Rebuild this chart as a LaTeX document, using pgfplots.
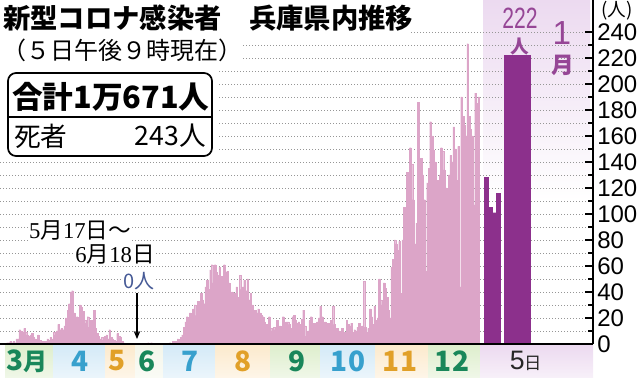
\documentclass[border=0pt]{standalone}
\usepackage{pgfplots}
\pgfplotsset{compat=1.18}
\usepackage{pgfplotstable}
\usetikzlibrary{arrows.meta}
\usepackage{fontspec}
\setmainfont{Liberation Sans}
\newfontfamily\jp{Noto Sans CJK JP}
\newfontfamily\ser{Liberation Serif}
\definecolor{pinkbar}{RGB}{220,165,200}
\definecolor{purp}{RGB}{140,48,140}
\definecolor{purptxt}{RGB}{150,70,150}
\definecolor{lav}{RGB}{236,218,240}
\definecolor{bgreen}{RGB}{222,238,205}
\definecolor{bblue}{RGB}{212,234,247}
\definecolor{borange}{RGB}{252,234,205}
\definecolor{bpale}{RGB}{244,246,234}
\definecolor{tgreen}{RGB}{25,135,90}
\definecolor{tblue}{RGB}{55,160,205}
\definecolor{torange}{RGB}{225,160,40}
\definecolor{zeroblue}{RGB}{70,90,150}
\definecolor{gridgray}{RGB}{150,150,150}

\pgfplotstableread{
v
0
1
1
2
1
2
1
4
4
11
10
9
12
9
7
6
7
8
5
4
3
7
3
2
2
1
2
4
3
5
4
9
7
10
15
11
12
11
14
20
26
31
40
41
24
18
21
19
30
28
25
18
16
21
13
18
15
26
12
8
6
4
5
3
6
7
4
11
5
4
3
2
8
6
5
2
1
0
0
0
0
0
0
0
0
0
0
0
0
0
0
0
1
0
1
0
0
0
0
0
0
0
0
0
0
0
1
0
2
1
2
4
3
5
7
13
17
21
16
24
18
27
30
22
33
26
39
34
31
44
49
42
57
61
47
61
55
53
59
52
48
61
55
56
47
26
40
34
39
44
36
53
42
44
49
41
50
34
39
30
21
26
24
27
24
22
21
17
15
11
21
12
10
13
11
18
12
14
13
21
15
17
17
15
12
21
22
18
16
17
15
19
26
14
6
10
18
21
16
16
14
17
20
29
21
15
17
13
16
14
18
29
15
12
12
10
8
12
7
9
18
15
14
16
9
11
10
13
16
12
14
48
13
9
12
27
21
15
29
18
20
50
34
30
47
43
36
26
20
59
65
80
77
72
79
39
80
105
99
132
106
151
138
111
77
93
186
103
143
130
111
56
124
135
171
160
149
140
106
126
130
151
148
134
120
66
130
145
140
167
150
126
152
44
190
175
168
160
231
175
165
160
107
193
185
190
}\pinkdata

\begin{document}
\begin{tikzpicture}
% ---------- background shading and month bands ----------
\begin{scope}[x=0.75pt,y=-0.75pt,shift={(0pt,258pt)}]
  \shade[top color=lav, bottom color=white] (483,0) rectangle (590,200);
  \shade[top color=bgreen, bottom color=bgreen!45!white] (5,345) rectangle (53,378);
  \shade[top color=bblue, bottom color=bblue!45!white] (53,345) rectangle (105,378);
  \shade[top color=borange, bottom color=borange!45!white] (105,345) rectangle (135,378);
  \shade[top color=bpale, bottom color=bpale!45!white] (135,345) rectangle (163,378);
  \shade[top color=bblue, bottom color=bblue!45!white] (163,345) rectangle (215,378);
  \shade[top color=borange, bottom color=borange!45!white] (215,345) rectangle (270,378);
  \shade[top color=bgreen, bottom color=bgreen!45!white] (270,345) rectangle (320,378);
  \shade[top color=bblue, bottom color=bblue!45!white] (320,345) rectangle (375,378);
  \shade[top color=borange, bottom color=borange!45!white] (375,345) rectangle (428,378);
  \shade[top color=bgreen, bottom color=bgreen!45!white] (428,345) rectangle (480,378);
  \shade[top color=lav, bottom color=lav!40!white] (480,345) rectangle (593,378);
\end{scope}

\begin{axis}[
  at={(0pt,0pt)}, anchor=south west,
  scale only axis, width=444.75pt, height=258pt,
  xmin=0, xmax=593, ymin=0, ymax=264.6,
  axis x line*=bottom, axis y line*=right,
  axis line style={line width=0.9pt, black, -},
  every outer x axis line/.append style={-},
  every outer y axis line/.append style={-},
  xtick=\empty,
  ytick={0,20,...,240},
  minor ytick={10,30,...,230},
  tick align=inside,
  major tick length=6pt, minor tick length=4pt,
  tick style={black, line width=0.8pt},
  ymajorgrids, yminorgrids,
  major grid style={gridgray, dash pattern=on 0.75pt off 1.5pt, line width=0.6pt},
  minor grid style={gridgray, dash pattern=on 0.75pt off 1.5pt, line width=0.6pt},
  yticklabel style={font=\fontsize{18}{18}\selectfont, anchor=west, inner sep=0pt, xshift=3pt},
  /pgf/number format/assume math mode=true,
  clip=false,
]
\addplot[ybar, bar width=1.55, bar shift=0pt, fill=pinkbar, draw=pinkbar, line width=0.15pt]
  table[x expr={5+1.55*(\coordindex+0.5)}, y=v]{\pinkdata};
\addplot[ybar, bar width=4, bar shift=0pt, fill=purp, draw=purp, line width=0.15pt]
  coordinates {(486,128) (490,105) (494,101) (498,116)};
\addplot[ybar, bar width=27, bar shift=0pt, fill=purp, draw=none]
  coordinates {(517.5,222)};
\draw[black, line width=1pt] (axis cs:2,0) -- (axis cs:593,0);
\end{axis}

% ---------- texts and annotations ----------
\begin{scope}[x=0.75pt,y=-0.75pt,shift={(0pt,258pt)}]
  \fill[white] (0,0) rectangle (411,37);
  \fill[white] (0,37) rectangle (241,65);
  \fill[white] (0,65) rectangle (218,160);
  \node[anchor=west, inner sep=0pt] at (3,18)
    {\jp\bfseries\fontsize{20.5}{20.5}\selectfont 新型コロナ感染者　兵庫県内推移};
  \node[anchor=west, inner sep=0pt] at (2,50)
    {\jp\fontsize{18}{18}\selectfont （５日午後９時現在）};
  \draw[line width=1.3pt, rounded corners=6pt] (8,73) rectangle (212,156);
  \draw[line width=1pt] (8,117) -- (212,117);
  \node[anchor=west, inner sep=0pt] at (12,97)
    {\jp\bfseries\fontsize{23}{23}\selectfont 合計1万671人};
  \node[anchor=west, inner sep=0pt] at (14,136)
    {\jp\fontsize{20}{20}\selectfont 死者};
  \node[anchor=east, inner sep=0pt] at (206,136)
    {\jp\fontsize{20}{20}\selectfont 243人};
  % y unit
  \node at (617,11) {\jp\fontsize{14}{14}\selectfont (人)};
  % Jan 5 labels
  \node[purptxt, xscale=0.72, inner sep=0pt] at (520,18) {\fontsize{22}{22}\selectfont 222};
  \node[purptxt, inner sep=0pt] at (520,47) {\jp\bfseries\fontsize{14}{14}\selectfont 人};
  \node[purptxt, inner sep=0pt] at (562,33) {\fontsize{25}{25}\selectfont 1};
  \node[purptxt, inner sep=0pt] at (563,65) {\jp\bfseries\fontsize{17}{17}\selectfont 月};
  % zero annotation
  \node[fill=white, inner sep=1pt] at (80,231)
    {\fontsize{17}{17}\selectfont{\ser 5}{\jp 月}{\ser 17}{\jp 日～}};
  \node[fill=white, inner sep=1pt] at (115,255)
    {\fontsize{17}{17}\selectfont{\ser 6}{\jp 月}{\ser 18}{\jp 日}};
  \node[fill=white, inner sep=1pt, text=zeroblue] at (139,281)
    {\jp\fontsize{15}{15}\selectfont 0人};
  \draw[-{Stealth[length=6pt,width=5pt]}, line width=0.8pt] (137,293) -- (137,339);
  % month labels
  \node[text=tgreen] at (27,361) {\jp\bfseries\fontsize{21}{21}\selectfont 3{\fontsize{18}{18}\selectfont 月}};
  \node[text=tblue] at (80,361) {\jp\bfseries\fontsize{21}{21}\selectfont 4};
  \node[text=torange] at (117,361) {\jp\bfseries\fontsize{21}{21}\selectfont 5};
  \node[text=tgreen] at (147,361) {\jp\bfseries\fontsize{21}{21}\selectfont 6};
  \node[text=tblue] at (190,361) {\jp\bfseries\fontsize{21}{21}\selectfont 7};
  \node[text=torange] at (243,361) {\jp\bfseries\fontsize{21}{21}\selectfont 8};
  \node[text=tgreen] at (297,361) {\jp\bfseries\fontsize{21}{21}\selectfont 9};
  \node[text=tblue] at (348,361) {\jp\bfseries\fontsize{21}{21}\selectfont 10};
  \node[text=torange] at (400,361) {\jp\bfseries\fontsize{21}{21}\selectfont 11};
  \node[text=tgreen] at (452,361) {\jp\bfseries\fontsize{21}{21}\selectfont 12};
  \node[text=black!85] at (526,361) {\fontsize{20}{20}\selectfont 5{\jp\fontsize{13}{13}\selectfont 日}};
\end{scope}
\pgfresetboundingbox
\path[use as bounding box] (0pt,-25.5pt) rectangle (480pt,258pt);
\end{tikzpicture}
\end{document}
